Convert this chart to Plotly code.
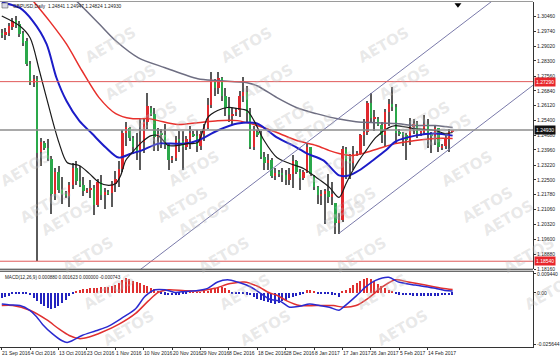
import plotly.graph_objects as go

# ---------------- DATA ----------------
date_labels = ["21 Sep 2016", "4 Oct 2016", "13 Oct 2016", "23 Oct 2016", "1 Nov 2016",
               "10 Nov 2016", "20 Nov 2016", "29 Nov 2016", "8 Dec 2016", "18 Dec 2016",
               "28 Dec 2016", "8 Jan 2017", "17 Jan 2017", "26 Jan 2017", "5 Feb 2017",
               "14 Feb 2017"]
label_bars = [0, 8, 16, 24, 32, 40, 48, 56, 64, 72, 80, 88, 96, 104, 112, 120]

opens = [1.2965, 1.2958, 1.2968, 1.2995, 1.3030, 1.3010, 1.2965, 1.2928, 1.2817, 1.2723,
         1.2743, 1.2385, 1.2430, 1.2405, 1.2350, 1.2180, 1.2290, 1.2200, 1.2180, 1.2170,
         1.2225, 1.2310, 1.2245, 1.2225, 1.2195, 1.2200, 1.2210, 1.2130, 1.2240, 1.2175,
         1.2190, 1.2185, 1.2230, 1.2255, 1.2305, 1.2480, 1.2505, 1.2455, 1.2410, 1.2390,
         1.2435, 1.2530, 1.2600, 1.2570, 1.2460, 1.2475, 1.2470, 1.2420, 1.2350, 1.2355,
         1.2445, 1.2440, 1.2410, 1.2450, 1.2475, 1.2465, 1.2415, 1.2475, 1.2505, 1.2615,
         1.2725, 1.2700, 1.2745, 1.2660, 1.2600, 1.2565, 1.2580, 1.2590, 1.2660, 1.2680,
         1.2575, 1.2410, 1.2485, 1.2470, 1.2360, 1.2335, 1.2345, 1.2270, 1.2285, 1.2280,
         1.2275, 1.2250, 1.2280, 1.2340, 1.2290, 1.2260, 1.2290, 1.2410, 1.2270, 1.2215,
         1.2175, 1.2180, 1.2195, 1.2165, 1.2140, 1.2040, 1.2055, 1.2400, 1.2340, 1.2335,
         1.2375, 1.2380, 1.2470, 1.2485, 1.2625, 1.2550, 1.2545, 1.2520, 1.2470, 1.2580,
         1.2620, 1.2605, 1.2480, 1.2480, 1.2470, 1.2445, 1.2510, 1.2525, 1.2480, 1.2485,
         1.2525, 1.2470, 1.2465, 1.2505, 1.2410, 1.2415, 1.2455, 1.24841]
highs = [1.2985, 1.2990, 1.3015, 1.3040, 1.3050, 1.3025, 1.2975, 1.2940, 1.2830, 1.2760,
         1.2755, 1.2455, 1.2440, 1.2450, 1.2365, 1.2310, 1.2320, 1.2265, 1.2195, 1.2240,
         1.2335, 1.2340, 1.2320, 1.2265, 1.2210, 1.2250, 1.2225, 1.2255, 1.2275, 1.2210,
         1.2200, 1.2245, 1.2295, 1.2340, 1.2495, 1.2530, 1.2510, 1.2465, 1.2480, 1.2545,
         1.2545, 1.2675, 1.2610, 1.2600, 1.2505, 1.2500, 1.2525, 1.2430, 1.2365, 1.2465,
         1.2490, 1.2490, 1.2465, 1.2515, 1.2490, 1.2495, 1.2490, 1.2525, 1.2650, 1.2775,
         1.2740, 1.2775, 1.2750, 1.2700, 1.2655, 1.2600, 1.2600, 1.2685, 1.2750, 1.2710,
         1.2600, 1.2515, 1.2495, 1.2490, 1.2385, 1.2375, 1.2355, 1.2310, 1.2300, 1.2310,
         1.2300, 1.2310, 1.2370, 1.2345, 1.2305, 1.2300, 1.2430, 1.2410, 1.2275, 1.2220,
         1.2200, 1.2205, 1.2280, 1.2240, 1.2140, 1.2090, 1.2415, 1.2410, 1.2375, 1.2415,
         1.2390, 1.2475, 1.2545, 1.2635, 1.2675, 1.2590, 1.2555, 1.2530, 1.2595, 1.2645,
         1.2705, 1.2620, 1.2500, 1.2485, 1.2480, 1.2550, 1.2545, 1.2535, 1.2490, 1.2565,
         1.2545, 1.2485, 1.2520, 1.2505, 1.2425, 1.2480, 1.2500, 1.24947]
lows = [1.2940, 1.2930, 1.2950, 1.2980, 1.2990, 1.2945, 1.2905, 1.2805, 1.2715, 1.2705,
        1.1854, 1.2320, 1.2395, 1.2340, 1.2085, 1.2150, 1.2185, 1.2135, 1.2160, 1.2120,
        1.2205, 1.2225, 1.2215, 1.2170, 1.2185, 1.2160, 1.2080, 1.2120, 1.2150, 1.2110,
        1.2175, 1.2120, 1.2190, 1.2215, 1.2290, 1.2415, 1.2440, 1.2375, 1.2345, 1.2300,
        1.2380, 1.2500, 1.2560, 1.2390, 1.2390, 1.2405, 1.2400, 1.2300, 1.2335, 1.2340,
        1.2385, 1.2300, 1.2395, 1.2400, 1.2460, 1.2385, 1.2395, 1.2440, 1.2500, 1.2600,
        1.2660, 1.2670, 1.2635, 1.2560, 1.2530, 1.2520, 1.2560, 1.2555, 1.2630, 1.2530,
        1.2400, 1.2395, 1.2460, 1.2350, 1.2300, 1.2300, 1.2260, 1.2250, 1.2265, 1.2240,
        1.2225, 1.2225, 1.2210, 1.2280, 1.2200, 1.2250, 1.2285, 1.2270, 1.2200, 1.2135,
        1.2130, 1.2035, 1.2140, 1.2130, 1.1985, 1.1988, 1.2045, 1.2255, 1.2255, 1.2300,
        1.2365, 1.2370, 1.2415, 1.2470, 1.2530, 1.2490, 1.2515, 1.2430, 1.2410, 1.2515,
        1.2585, 1.2430, 1.2465, 1.2415, 1.2345, 1.2420, 1.2475, 1.2455, 1.2465, 1.2470,
        1.2405, 1.2380, 1.2420, 1.2385, 1.2395, 1.2400, 1.2385, 1.24824]
closes = [1.2958, 1.2972, 1.3000, 1.3025, 1.3005, 1.2962, 1.2915, 1.2817, 1.2723, 1.2743,
          1.2382, 1.2434, 1.2405, 1.2350, 1.2180, 1.2290, 1.2200, 1.2180, 1.2170, 1.2225,
          1.2310, 1.2245, 1.2225, 1.2195, 1.2200, 1.2210, 1.2130, 1.2240, 1.2175, 1.2190,
          1.2185, 1.2230, 1.2255, 1.2305, 1.2480, 1.2510, 1.2455, 1.2410, 1.2390, 1.2435,
          1.2530, 1.2610, 1.2570, 1.2460, 1.2475, 1.2470, 1.2420, 1.2345, 1.2355, 1.2445,
          1.2440, 1.2410, 1.2450, 1.2480, 1.2465, 1.2415, 1.2475, 1.2505, 1.2615, 1.2740,
          1.2700, 1.2745, 1.2660, 1.2600, 1.2565, 1.2570, 1.2590, 1.2660, 1.2680, 1.2575,
          1.2410, 1.2490, 1.2470, 1.2360, 1.2335, 1.2345, 1.2270, 1.2285, 1.2280, 1.2275,
          1.2250, 1.2280, 1.2340, 1.2290, 1.2260, 1.2290, 1.2410, 1.2280, 1.2215, 1.2175,
          1.2180, 1.2195, 1.2165, 1.2180, 1.2040, 1.2055, 1.2400, 1.2340, 1.2335, 1.2375,
          1.2380, 1.2470, 1.2485, 1.2625, 1.2550, 1.2550, 1.2520, 1.2470, 1.2580, 1.2620,
          1.2605, 1.2480, 1.2475, 1.2470, 1.2445, 1.2510, 1.2525, 1.2480, 1.2485, 1.2525,
          1.2470, 1.2465, 1.2505, 1.2410, 1.2415, 1.2455, 1.2484, 1.24930]

# moving averages read at sample bars
ma_fast_bars = [0, 5, 8, 10.6, 14.3, 16.2, 18.4, 21.8, 24.6, 27.4, 30.1, 32.1, 33.5, 34.9, 36.5,
                39.3, 42.1, 44.1, 46.9, 49.6, 52.4, 55.2, 58, 60.8, 63.6, 66.4, 69.1, 71, 73.9,
                77.5, 81.1, 85, 88.6, 92.3, 95, 97, 98.9, 100.6, 102.6, 105.3, 109, 110.9, 116.5,
                122.1, 124.8, 127]
ma_fast_vals = [1.3049, 1.3001, 1.2942, 1.2782, 1.2539, 1.2427, 1.2335, 1.2320, 1.2282, 1.2238,
                1.2224, 1.2233, 1.2272, 1.2345, 1.2379, 1.2432, 1.2466, 1.2466, 1.2418, 1.2418,
                1.2427, 1.2432, 1.2554, 1.2588, 1.2603, 1.2598, 1.2588, 1.2540, 1.2442, 1.2359,
                1.2330, 1.2306, 1.2262, 1.2214, 1.2165, 1.2233, 1.2296, 1.2345, 1.2393, 1.2456,
                1.2505, 1.2515, 1.2500, 1.2491, 1.2476, 1.2481]
ma_mid_bars = [0, 5.1, 8.7, 12.6, 15.4, 18.2, 21.8, 25.4, 29.3, 32.9, 36.5, 39.3, 44.1, 47.7,
               51.6, 55.2, 60.8, 66.4, 71.9, 77.5, 83.1, 85.9, 90.6, 95, 97.8, 100.6, 104.5,
               108.1, 110.9, 116.5, 122.1, 127]
ma_mid_vals = [1.3115, 1.3088, 1.3025, 1.2913, 1.2748, 1.2636, 1.2539, 1.2476, 1.2408, 1.2359,
               1.2379, 1.2393, 1.2427, 1.2427, 1.2427, 1.2442, 1.2491, 1.2525, 1.2525, 1.2457,
               1.2408, 1.2379, 1.2345, 1.2272, 1.2272, 1.2296, 1.2345, 1.2393, 1.2437, 1.2466,
               1.2476, 1.2466]
ma_slow_bars = [7, 13.4, 18.2, 22.6, 27.4, 32.1, 36.5, 41.3, 44.1, 49.6, 55.2, 60.8, 66.4, 71.9,
                77.5, 83.1, 88.6, 92.3, 95, 98.9, 101.7, 106.2, 110.9, 116.5, 122.1, 127]
ma_slow_vals = [1.3160, 1.3025, 1.2913, 1.2782, 1.2651, 1.2573, 1.2549, 1.2549, 1.2539, 1.2520,
                1.2529, 1.2539, 1.2539, 1.2515, 1.2481, 1.2442, 1.2418, 1.2393, 1.2379, 1.2369,
                1.2379, 1.2403, 1.2427, 1.2442, 1.2452, 1.2452]
ma_long_bars = [18, 21, 27.4, 32.1, 38.5, 46, 55.2, 60.8, 69.1, 71.9, 77.5, 83.1, 88.6, 94.2,
                99.8, 105.3, 110.9, 116.5, 122.1, 127]
ma_long_vals = [1.3165, 1.3122, 1.3011, 1.2928, 1.2845, 1.2797, 1.2743, 1.2734, 1.2724, 1.2709,
                1.2651, 1.2602, 1.2573, 1.2549, 1.2534, 1.2529, 1.2525, 1.2515, 1.2515, 1.2505]

# horizontal levels
level_red_upper = 1.27290
level_price = 1.24930
level_red_lower = 1.18540

# channel lines (anchor bars / prices)
channel_upper_bars = [35, 150]
channel_upper_prices = [1.17602, 1.32782]
channel_lower_bars = [95, 150]
channel_lower_prices = [1.19900, 1.27160]

# price axis labels
price_ticks = [1.30460, 1.29740, 1.29020, 1.28300, 1.27560, 1.26840, 1.26120, 1.25400, 1.24680,
               1.23960, 1.23220, 1.22500, 1.21780, 1.21060, 1.20320, 1.19600, 1.18880, 1.18160]
price_tick_text = ["1.30460", "1.29740", "1.29020", "1.28300", "1.27560", "1.26840", "1.26120",
                   "1.25400", "1.24680", "1.23960", "1.23220", "1.22500", "1.21780", "1.21060",
                   "1.20320", "1.19600", "1.18880", "1.18160"]

# MACD
macd_hist = [-0.0028, -0.00234, -0.00187, -0.00047, -0.00047, -0.00047, -0.00047, -0.0007,
             -0.0014, -0.0028, -0.0042, -0.0056, -0.00654, -0.00747, -0.00794, -0.00747,
             -0.00654, -0.00514, -0.00374, -0.00187, -0.00047,
             0.00093, 0.0014, 0.00187, 0.00187, 0.00234, 0.00234, 0.00234, 0.0028, 0.0028,
             0.0028, 0.00327, 0.00374, 0.00467, 0.00607, 0.0070, 0.00654, 0.0056, 0.00514,
             0.00467, 0.00374, 0.00327, 0.00234, 0.00187, 0.00093,
             -0.00047, -0.00093, -0.0014, -0.0014, -0.00093, -0.00093, -0.00047, -0.00047,
             0.00023, 0.00023, 0.00023, 0.00023,
             0.00047, 0.00093, 0.00187, 0.00234, 0.0028, 0.0028, 0.00234, 0.0014,
             -0.00023, -0.00023, -0.00023, -0.00023,
             -0.00093, -0.0014, -0.00234, -0.00327, -0.00374, -0.0042, -0.00467, -0.00514,
             -0.0056, -0.00514, -0.0042, -0.00374, -0.0028, -0.00234, -0.00187, -0.00093,
             -0.00047,
             0.0014, 0.0014, 0.00093,
             -0.00047, -0.00047, -0.00047, -0.00047, -0.00093, -0.0014, -0.00234,
             0.00047, 0.0014, 0.00234, 0.00374, 0.00467, 0.0056, 0.00654, 0.0070, 0.00654,
             0.0056, 0.0042, 0.00327, 0.00234, 0.0014, 0.00047,
             -0.00047, -0.00093, -0.0014, -0.0014, -0.0014, -0.00187, -0.00187, -0.00187,
             -0.00187, -0.00187, -0.00187, -0.00187, -0.00187, -0.0014, -0.0014, -0.0014,
             -0.00093]
macd_bars = [0, 2.3, 5.1, 7.9, 9.8, 11.5, 14.3, 17, 18.4, 19.8, 22.6, 26.5, 30.1, 33.8, 37.7,
             40.4, 43.2, 46, 48.8, 51.6, 55.2, 58, 60.8, 63.6, 66.4, 70, 72.8, 75.5, 78.5,
             81.1, 83.9, 86.7, 89.5, 92.3, 95, 96.2, 99.8, 102.6, 105.3, 109, 111.8, 116.5,
             122.1, 124.8, 127]
macd_vals = [-0.00551, -0.00598, -0.00630, -0.00864, -0.01177, -0.01565, -0.02032, -0.02372,
             -0.02452, -0.02372, -0.02111, -0.01877, -0.01644, -0.01252, -0.00785, -0.00163,
             0.00149, 0.00149, 0.00023, 0.00070, 0.00117, 0.00224, 0.00537, 0.00644, 0.00537,
             0.00304, -0.00009, -0.00318, -0.00420, -0.00710, -0.00663, -0.00551, -0.00630,
             -0.00710, -0.00864, -0.00710, -0.00163, 0.00304, 0.00616, 0.00771, 0.00537,
             0.00383, 0.00224, 0.00120, 0.00088]
signal_bars = [0, 3.1, 7.9, 12.6, 16.2, 19, 21.8, 24.6, 28.2, 32.9, 37.7, 41.3, 44.1, 46.9, 51.6,
               56.1, 60, 64.4, 68.3, 71.9, 75.5, 77.5, 80.3, 83.9, 88.6, 93.4, 96.2, 99.8,
               103.4, 107.3, 110.9, 114.5, 119.3, 124, 127]
signal_vals = [-0.00630, -0.00630, -0.00864, -0.01331, -0.01798, -0.02111, -0.02265, -0.02186,
               -0.01952, -0.01564, -0.01018, -0.00397, 0.00023, 0.00149, 0.00103, 0.00103,
               0.00224, 0.00458, 0.00537, 0.00336, -0.00009, -0.00117, -0.00397, -0.00630,
               -0.00630, -0.00630, -0.00710, -0.00630, -0.00243, 0.00304, 0.00644, 0.00537,
               0.00383, 0.00224, 0.00162]
macd_ticks = [0.00944, 0.0, -0.02564]
macd_tick_text = ["0.009440", "0.00", "-0.025644"]

header_text = "GBPUSD,Daily  1.24841 1.24947 1.24824 1.24930"
macd_text = "MACD(12,26,9) 0.000880 0.001623 0.000000 -0.000743"

# ---------------- LAYOUT GEOMETRY ----------------
W, H = 560, 357
MR, MB = 21, 8
PW, PH = W - MR, H - MB


def py(ypx):
    return (PH - ypx) / PH


def px(xpx):
    return xpx / PW


FONT = "Liberation Sans"
RED = "#e0292e"
GREEN = "#2aa84a"

bars = list(range(len(closes)))
x_range = [-0.5, 149.64]

fig = go.Figure()

# wicks
fig.add_trace(go.Bar(x=bars, base=lows, y=[h - l for h, l in zip(highs, lows)], width=0.3,
                     marker=dict(color="#5a5a5a", line=dict(width=0)), xaxis="x", yaxis="y",
                     showlegend=False, hoverinfo="skip"))
# bodies
body_base = [min(o, c) for o, c in zip(opens, closes)]
body_h = [max(abs(c - o), 0.00025) for o, c in zip(opens, closes)]
body_col = [RED if c >= o else GREEN for o, c in zip(opens, closes)]
fig.add_trace(go.Bar(x=bars, base=body_base, y=body_h, width=0.66,
                     marker=dict(color=body_col, line=dict(width=0)), xaxis="x", yaxis="y",
                     showlegend=False, hoverinfo="skip"))

# moving averages
for bx, vals, col, wd in [(ma_long_bars, ma_long_vals, "#6e6e82", 1.5),
                          (ma_slow_bars, ma_slow_vals, "#e8302c", 1.5),
                          (ma_mid_bars, ma_mid_vals, "#1c1cc8", 2.0),
                          (ma_fast_bars, ma_fast_vals, "#1a1a1a", 1.2)]:
    fig.add_trace(go.Scatter(x=bx, y=vals, mode="lines",
                             line=dict(color=col, width=wd, shape="spline", smoothing=0.8),
                             xaxis="x", yaxis="y", showlegend=False, hoverinfo="skip"))

# channel lines
for bx, pv in [(channel_upper_bars, channel_upper_prices), (channel_lower_bars, channel_lower_prices)]:
    fig.add_trace(go.Scatter(x=bx, y=pv, mode="lines", line=dict(color="#7a7aaa", width=1),
                             xaxis="x", yaxis="y", showlegend=False, hoverinfo="skip"))

# horizontal levels
for lv, col, wd in [(level_red_upper, "#e05a5a", 1), (level_price, "#8c8c8c", 1.6),
                    (level_red_lower, "#e05a5a", 1)]:
    fig.add_trace(go.Scatter(x=x_range, y=[lv, lv], mode="lines", line=dict(color=col, width=wd),
                             xaxis="x", yaxis="y", showlegend=False, hoverinfo="skip"))

# MACD histogram and lines
fig.add_trace(go.Bar(x=bars, y=macd_hist, width=0.36,
                     marker=dict(color=["#e03030" if v > 0 else "#2323c0" for v in macd_hist],
                                 line=dict(width=0)),
                     xaxis="x2", yaxis="y2", showlegend=False, hoverinfo="skip"))
fig.add_trace(go.Scatter(x=signal_bars, y=signal_vals, mode="lines",
                         line=dict(color="#e03030", width=1.5, shape="spline", smoothing=0.8),
                         xaxis="x2", yaxis="y2", showlegend=False, hoverinfo="skip"))
fig.add_trace(go.Scatter(x=macd_bars, y=macd_vals, mode="lines",
                         line=dict(color="#2a2ad0", width=1.5, shape="spline", smoothing=0.8),
                         xaxis="x2", yaxis="y2", showlegend=False, hoverinfo="skip"))

# shift marker at top
shift_marker_bar = 128.5
fig.add_trace(go.Scatter(x=[shift_marker_bar], y=[1.3103], mode="markers",
                         marker=dict(symbol="triangle-down", size=6, color="black"),
                         xaxis="x", yaxis="y", showlegend=False, hoverinfo="skip", cliponaxis=False))

annotations = []
# watermark lattice
for k in range(0, 10):
    for j in range(-2, 3):
        cx = 250 + 170 * j + 21 * k
        cy = 20 + 37 * k
        if -25 < cx < 590:
            annotations.append(dict(x=px(cx), y=py(cy), xref="paper", yref="paper",
                                    text="<b>AETOS</b>", showarrow=False, textangle=-30,
                                    font=dict(family="DejaVu Sans", size=15,
                                              color="rgba(185,185,185,0.32)")))

# date labels (left aligned like MT4)
for b, t in zip(label_bars, date_labels):
    annotations.append(dict(x=b - 0.45, y=py(347), xref="x2", yref="paper", text=t, showarrow=False,
                            xanchor="left", yanchor="top", yshift=-1,
                            font=dict(family=FONT, size=5, color="#222")))

# price boxes on the right
for lv, txt, bg in [(level_red_upper, "1.27290", "#e8262b"), (level_price, "1.24930", "#111111"),
                    (level_red_lower, "1.18540", "#e8262b")]:
    annotations.append(dict(x=1.0, y=lv, xref="paper", yref="y", text=txt, showarrow=False,
                            xanchor="left", yanchor="middle", xshift=1, bgcolor=bg, borderpad=1,
                            font=dict(family=FONT, size=5, color="white")))

annotations.append(dict(x=px(11), y=py(1.5), xref="paper", yref="paper", text=header_text,
                        showarrow=False, xanchor="left", yanchor="top",
                        font=dict(family=FONT, size=4.8, color="#222")))
annotations.append(dict(x=px(3), y=py(272.5), xref="paper", yref="paper", text=macd_text,
                        showarrow=False, xanchor="left", yanchor="top",
                        font=dict(family=FONT, size=4.6, color="#222")))

shapes = [
    dict(type="rect", xref="paper", yref="paper", x0=px(2), x1=px(8), y0=py(7), y1=py(2),
         line=dict(width=0.6, color="#555"), fillcolor="#d8d8e8"),
    dict(type="line", xref="paper", yref="paper", x0=0, x1=1, y0=py(0.5), y1=py(0.5),
         line=dict(color="#9a9a9a", width=1)),
    dict(type="line", xref="paper", yref="paper", x0=0, x1=1, y0=py(269), y1=py(269),
         line=dict(color="#333", width=1)),
    dict(type="line", xref="paper", yref="paper", x0=0, x1=1, y0=py(271), y1=py(271),
         line=dict(color="#333", width=1)),
]

fig.update_layout(
    width=W, height=H,
    margin=dict(l=0, r=MR, t=0, b=MB),
    paper_bgcolor="white", plot_bgcolor="white",
    barmode="overlay", bargap=0,
    showlegend=False,
    xaxis=dict(domain=[0, 1], range=x_range, anchor="y", showticklabels=False, showgrid=False,
               zeroline=False, showline=False, ticks=""),
    yaxis=dict(domain=[py(269), py(1)], range=[1.1815, 1.3117], side="right", anchor="x",
               tickvals=price_ticks, ticktext=price_tick_text, showgrid=False, zeroline=False,
               showline=True, linecolor="#333", linewidth=1, ticks="outside", ticklen=2,
               tickcolor="#333", tickfont=dict(family=FONT, size=5, color="#222")),
    xaxis2=dict(domain=[0, 1], range=x_range, anchor="y2", showticklabels=False, showgrid=False,
                zeroline=False, showline=True, linecolor="#333", linewidth=1, ticks="outside",
                ticklen=2, tickcolor="#333", tickvals=label_bars),
    yaxis2=dict(domain=[py(347), py(271)], range=[-0.0268, 0.0107], side="right", anchor="x2",
                tickvals=macd_ticks, ticktext=macd_tick_text,
                showgrid=False, zeroline=False, showline=True, linecolor="#333", linewidth=1,
                ticks="outside", ticklen=2, tickcolor="#333",
                tickfont=dict(family=FONT, size=5, color="#222")),
    annotations=annotations,
    shapes=shapes,
)

fig.write_html("out.html")
